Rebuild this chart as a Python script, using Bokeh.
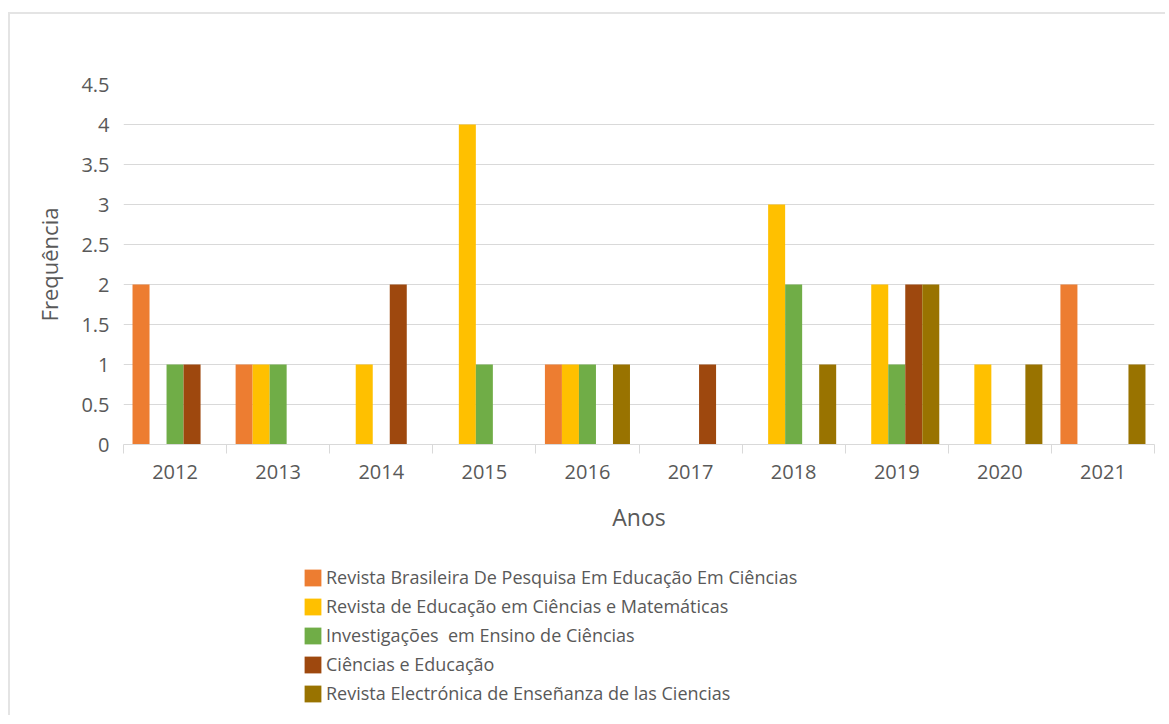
from bokeh.plotting import figure
from bokeh.layouts import column
from bokeh.models import (FixedTicker, Legend, LegendItem, Range1d, ColumnDataSource,
                          NumeralTickFormatter, CustomJSTickFormatter)
from bokeh.transform import dodge
from bokeh.embed import file_html
from bokeh.resources import INLINE

years = ["2012", "2013", "2014", "2015", "2016", "2017", "2018", "2019", "2020", "2021"]
series_names = [
    "Revista Brasileira De Pesquisa Em Educação Em Ciências",
    "Revista de Educação em Ciências e Matemáticas",
    "Investigações  em Ensino de Ciências",
    "Ciências e Educação",
    "Revista Electrónica de Enseñanza de las Ciencias",
]
rbpec = [2, 1, 0, 0, 1, 0, 0, 0, 0, 2]
recm = [0, 1, 1, 4, 1, 0, 3, 2, 1, 0]
iec = [1, 1, 0, 1, 1, 0, 2, 1, 0, 0]
ce = [1, 0, 2, 0, 0, 1, 0, 2, 0, 0]
reec = [0, 0, 0, 0, 1, 0, 1, 2, 1, 1]
y_ticks = [0, 0.5, 1, 1.5, 2, 2.5, 3, 3.5, 4, 4.5]

colors = ["#ED7D31", "#FFC000", "#70AD47", "#9E480E", "#997300"]
FONT = "Open Sans"
TXT = "#595959"

x_center = [i + 0.5 for i in range(len(years))]
x_bounds = [i for i in range(len(years) + 1)]
source = ColumnDataSource(dict(x=x_center, s0=rbpec, s1=recm, s2=iec, s3=ce, s4=reec))

W = 1155
H1 = 541
p = figure(width=W, height=H1, x_range=Range1d(0, len(years)), y_range=Range1d(0, 4.5),
           output_backend="svg", toolbar_location=None,
           min_border_left=113, min_border_right=11, min_border_top=70, min_border_bottom=111)
p.outline_line_color = None
p.background_fill_color = "white"
p.border_fill_color = "white"

bw = 0.165
offsets = [-2 * bw, -bw, 0, bw, 2 * bw]
for k in range(5):
    p.vbar(x=dodge("x", offsets[k], range=p.x_range), top="s%d" % k, width=bw,
           bottom=0, source=source, fill_color=colors[k], line_color=None)

# grid
p.xgrid.visible = False
p.ygrid.grid_line_color = "#d9d9d9"
p.ygrid.grid_line_width = 1
p.ygrid.ticker = FixedTicker(ticks=y_ticks)

# y axis
ya = p.yaxis[0]
ya.ticker = FixedTicker(ticks=y_ticks)
ya.formatter = NumeralTickFormatter(format="0.[0]")
ya.axis_line_color = None
ya.major_tick_line_color = None
ya.minor_tick_line_color = None
ya.major_tick_out = 0
ya.major_tick_in = 0
ya.major_label_standoff = 14
ya.major_label_text_font = FONT
ya.major_label_text_font_size = "20px"
ya.major_label_text_color = TXT
ya.axis_label = "Frequência"
ya.axis_label_text_font = FONT
ya.axis_label_text_font_size = "22px"
ya.axis_label_text_font_style = "normal"
ya.axis_label_text_color = TXT
ya.axis_label_standoff = 14

# x axis
xa = p.xaxis[0]
xa.ticker = FixedTicker(ticks=x_center, minor_ticks=x_bounds)
xa.formatter = CustomJSTickFormatter(args=dict(years=years),
                                     code="return years[Math.floor(tick)];")
xa.axis_line_color = "#d9d9d9"
xa.axis_line_width = 1
xa.major_tick_line_color = None
xa.major_tick_out = 0
xa.major_tick_in = 0
xa.minor_tick_line_color = "#d9d9d9"
xa.minor_tick_out = 9
xa.minor_tick_in = 0
xa.major_label_standoff = 11
xa.major_label_text_font = FONT
xa.major_label_text_font_size = "20px"
xa.major_label_text_color = TXT
xa.axis_label = "Anos"
xa.axis_label_text_font = FONT
xa.axis_label_text_font_size = "23px"
xa.axis_label_text_font_style = "normal"
xa.axis_label_text_color = TXT
xa.axis_label_standoff = 19

# legend panel below the chart (its bars have zero width: only the swatches show)
H2 = 160
p2 = figure(width=W, height=H2, x_range=p.x_range, y_range=Range1d(0, 4.5),
            output_backend="svg", toolbar_location=None,
            x_axis_location=None, y_axis_location=None,
            min_border_left=0, min_border_right=0, min_border_top=0, min_border_bottom=0)
p2.outline_line_color = None
p2.grid.visible = False
p2.background_fill_color = "white"
p2.border_fill_color = "white"
items = []
for k in range(5):
    r = p2.vbar(x="x", top="s%d" % k, width=0, bottom=0, source=source,
                fill_color=colors[k], line_color=None)
    items.append(LegendItem(label=series_names[k], renderers=[r]))

legend = Legend(items=items, location=(179, 10), orientation="vertical",
                padding=0, margin=0, border_line_color=None, background_fill_alpha=0,
                glyph_width=21, glyph_height=21, label_standoff=3, spacing=5,
                label_height=17, label_text_font=FONT, label_text_font_size="18px",
                label_text_color=TXT)
p2.add_layout(legend)

layout = column(p, p2, spacing=0, margin=(12, 0, 0, 8),
                styles={"border-top": "2px solid #e4e4e4", "border-left": "2px solid #e4e4e4"})

open("out.html", "w").write(file_html(layout, INLINE))
